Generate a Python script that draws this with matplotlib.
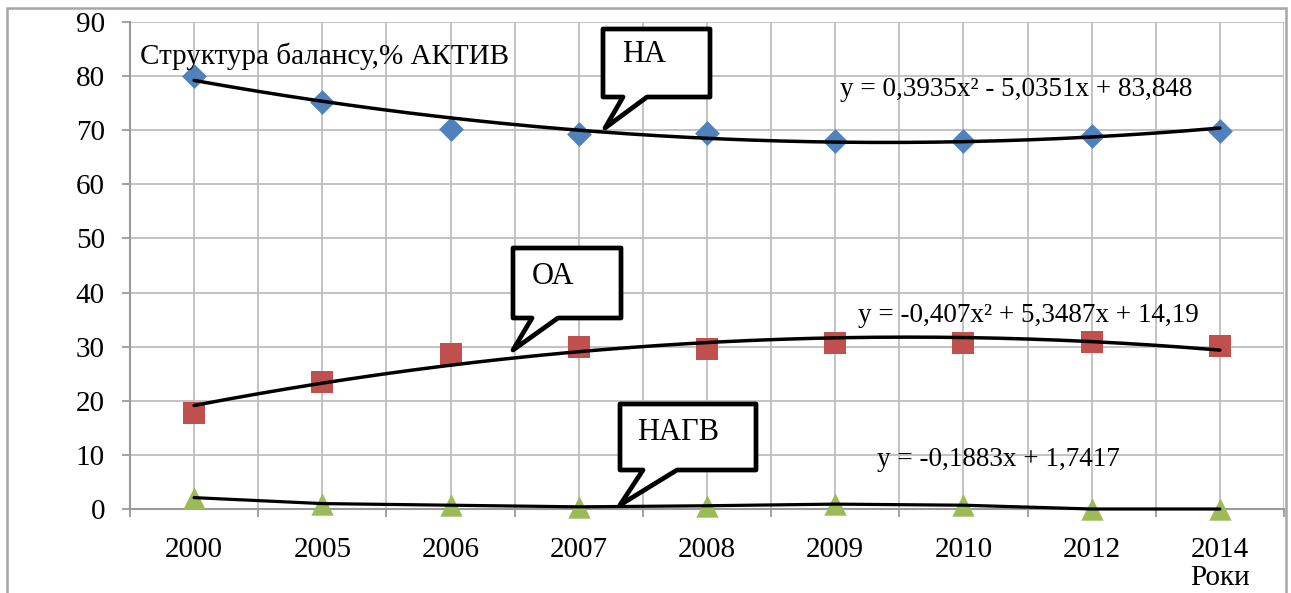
import numpy as np
import matplotlib
matplotlib.use("Agg")
import matplotlib.pyplot as plt
from matplotlib.patches import Polygon, Rectangle

plt.rcParams['font.family'] = ['Liberation Serif', 'DejaVu Serif']

# ---- data ----
years = ["2000", "2005", "2006", "2007", "2008", "2009", "2010", "2012", "2014"]
na_values = [80.0, 75.3, 70.3, 69.3, 69.5, 68.0, 68.0, 68.9, 69.8]
oa_values = [17.8, 23.4, 28.7, 29.9, 29.6, 30.7, 30.7, 30.9, 30.1]
nagv_values = [2.1, 1.0, 0.7, 0.4, 0.6, 0.9, 0.7, 0.0, 0.0]
na_trend_coef = [0.3935, -5.0351, 83.848]
oa_trend_coef = [-0.407, 5.3487, 14.19]
y_ticks = [0, 10, 20, 30, 40, 50, 60, 70, 80, 90]

W, H = 1291, 593
fig = plt.figure(figsize=(W / 100, H / 100), dpi=100)

def fx(px):
    return px / W

def fy(py):
    return 1 - py / H

ax = fig.add_axes([fx(130), fy(509), fx(1284) - fx(130), fy(22) - fy(509)])
x = np.arange(len(years))
ax.set_xlim(-0.5, len(years) - 0.5)
ax.set_ylim(0, 90)

grid_c = '#BEBEBE'
ax.set_yticks(y_ticks)
ax.set_xticks(x)
ax.set_xticklabels(years)
ax.set_xticks(np.arange(-0.5, len(years), 1.0), minor=True)
ax.grid(True, which='both', color=grid_c, lw=1.3, zorder=0)
ax.set_axisbelow(True)
for s in ['top', 'right']:
    ax.spines[s].set_visible(False)
for s in ['left', 'bottom']:
    ax.spines[s].set_color('#9A9A9A')
    ax.spines[s].set_linewidth(1.5)
ax.tick_params(axis='x', which='major', length=0, pad=20, labelsize=21)
ax.tick_params(axis='x', which='minor', length=6, width=1.3, color='#9A9A9A')
ax.tick_params(axis='y', length=6, width=1.3, color='#9A9A9A', pad=12, labelsize=21)

# markers
ax.scatter(x, na_values, marker='D', s=160, color='#4F81BD', zorder=3, linewidths=0,
           clip_on=False)
ax.scatter(x, oa_values, marker='s', s=250, color='#C0504D', zorder=3, linewidths=0,
           clip_on=False)
ax.scatter(x, nagv_values, marker='^', s=260, color='#9BBB59', zorder=3, linewidths=0,
           clip_on=False)

# trend lines
xs = np.linspace(0, len(years) - 1, 200)
t = xs + 1
ax.plot(xs, np.polyval(na_trend_coef, t), color='black', lw=2.5, zorder=4,
        solid_capstyle='round')
ax.plot(xs, np.polyval(oa_trend_coef, t), color='black', lw=2.5, zorder=4,
        solid_capstyle='round')
ax.plot(x, nagv_values, color='black', lw=2.3, zorder=4, solid_capstyle='round',
        clip_on=False)

# callouts (pixel geometry)
def callout(x0, x1, y0, y1, b0, b1, tip, label, tx, ty):
    verts = [(x0, y0), (x1, y0), (x1, y1), (b1, y1), tip, (b0, y1), (x0, y1)]
    verts = [(fx(a), fy(b)) for a, b in verts]
    p = Polygon(verts, closed=True, transform=fig.transFigure, facecolor='white',
                edgecolor='black', lw=3.4, joinstyle='round', zorder=10)
    fig.patches.append(p)
    fig.text(fx(tx), fy(ty), label, fontsize=22, ha='left', va='center', zorder=11)

callout(603, 710, 29, 97, 623, 647, (605, 128), 'НА', 622, 55)
callout(513, 621, 248, 318, 532, 558, (513, 350), 'ОА', 532, 277)
callout(620, 756, 404, 470, 643, 677, (620, 505), 'НАГВ', 637, 432)

# texts
fig.text(fx(140), fy(56), 'Структура балансу,% АКТИВ', fontsize=21, ha='left', va='center')
fig.text(fx(840), fy(89), 'y = 0,3935x² - 5,0351x + 83,848', fontsize=19.5, ha='left', va='center')
fig.text(fx(858), fy(315), 'y = -0,407x² + 5,3487x + 14,19', fontsize=19.5, ha='left', va='center')
fig.text(fx(877), fy(459), 'y = -0,1883x + 1,7417', fontsize=19.5, ha='left', va='center')
fig.text(fx(1220), fy(578), 'Роки', fontsize=21, ha='center', va='center')

# outer border
fig.patches.append(Rectangle((fx(7), fy(600)), fx(1286) - fx(7), fy(8) - fy(600),
                             transform=fig.transFigure, fill=False,
                             edgecolor='#A6A6A6', lw=1.8, zorder=0))

fig.savefig('out.png', dpi=100)
